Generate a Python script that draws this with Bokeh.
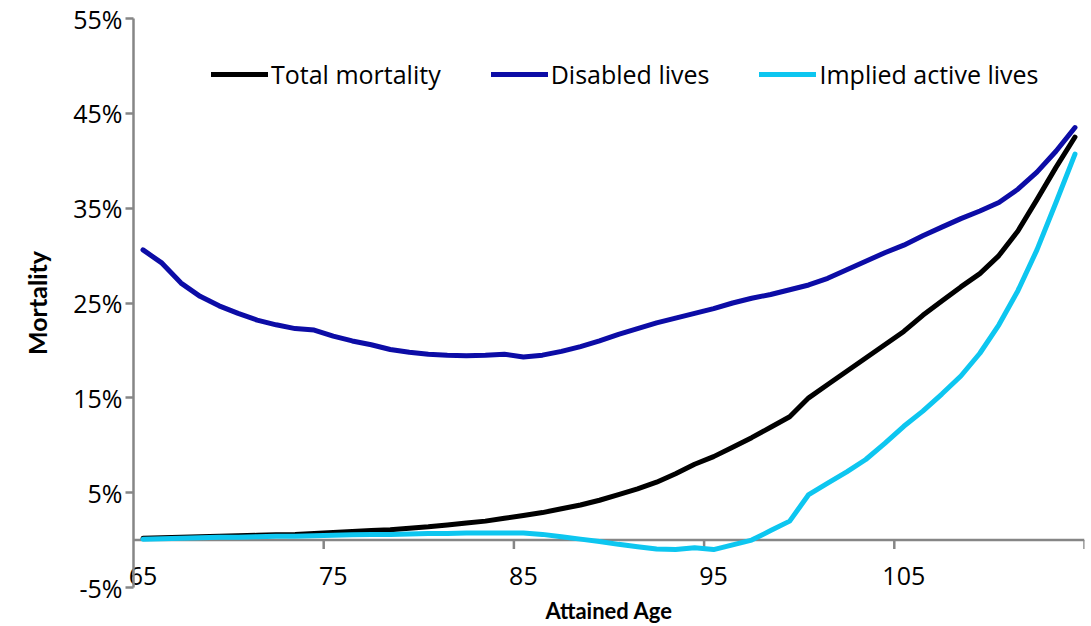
from bokeh.plotting import figure
from bokeh.models import Legend, LegendItem, FixedTicker, PrintfTickFormatter, Span, Range1d
from bokeh.embed import file_html
from bokeh.resources import INLINE

# ---- data (mortality in %) ----
ages = list(range(65, 115))
total_mortality = [
    0.2, 0.25, 0.3, 0.35, 0.4, 0.45, 0.5, 0.55, 0.6, 0.7,
    0.8, 0.9, 1.0, 1.1, 1.25, 1.4, 1.6, 1.8, 2.0, 2.3,
    2.6, 2.9, 3.3, 3.7, 4.2, 4.8, 5.4, 6.1, 7.0, 8.0,
    8.8, 9.8, 10.8, 11.9, 13.0, 15.0, 16.4, 17.8, 19.2, 20.6,
    22.0, 23.7, 25.2, 26.7, 28.1, 30.0, 32.6, 35.9, 39.3, 42.5]
disabled_lives = [
    30.6, 29.2, 27.1, 25.7, 24.7, 23.9, 23.2, 22.7, 22.3, 22.15,
    21.5, 21.0, 20.6, 20.1, 19.8, 19.6, 19.5, 19.45, 19.5, 19.6,
    19.3, 19.5, 19.9, 20.4, 21.0, 21.7, 22.3, 22.9, 23.4, 23.9,
    24.4, 25.0, 25.5, 25.9, 26.4, 26.9, 27.6, 28.5, 29.4, 30.3,
    31.1, 32.1, 33.0, 33.9, 34.7, 35.6, 37.0, 38.8, 41.0, 43.5]
implied_active_lives = [
    0.1, 0.15, 0.2, 0.25, 0.3, 0.3, 0.35, 0.4, 0.4, 0.45,
    0.5, 0.55, 0.6, 0.6, 0.65, 0.7, 0.7, 0.75, 0.75, 0.75,
    0.75, 0.6, 0.35, 0.1, -0.15, -0.45, -0.7, -0.95, -1.0, -0.8,
    -1.0, -0.5, 0.0, 1.0, 2.0, 4.8, 6.0, 7.2, 8.5, 10.2,
    12.0, 13.6, 15.4, 17.3, 19.7, 22.7, 26.3, 30.6, 35.6, 40.7]
series_names = ["Total mortality", "Disabled lives", "Implied active lives"]
x_tick_labels = [65, 75, 85, 95, 105]
y_ticks = [-5, 5, 15, 25, 35, 45, 55]
x_title = "Attained Age"
y_title = "Mortality"

AXIS_GRAY = "#868686"
FONT = "Open Sans"
TITLE_FONT = "Lato"

p = figure(width=1091, height=626,
           x_range=Range1d(ages[0] - 0.5, ages[-1] + 0.5), y_range=Range1d(-5, 55),
           output_backend="svg", toolbar_location=None,
           min_border_left=133, min_border_right=7, min_border_top=18, min_border_bottom=38)
p.grid.visible = False
p.outline_line_color = None
p.background_fill_color = "white"
p.border_fill_color = "white"

# horizontal category axis line at zero, with tick marks between category groups
zero = Span(location=0, dimension="width", line_color=AXIS_GRAY, line_width=2.5, level="underlay")
p.add_layout(zero)
tick_x = [a + 0.5 for a in ages if (a - 64) % 10 == 0]
p.segment(x0=tick_x, y0=[0] * len(tick_x), x1=tick_x, y1=[-0.95] * len(tick_x),
          line_color=AXIS_GRAY, line_width=2.5)

r1 = p.line(ages, total_mortality, line_color="black", line_width=5, line_join="round", line_cap="round")
r2 = p.line(ages, disabled_lives, line_color="#0C0CA6", line_width=5, line_join="round", line_cap="round")
r3 = p.line(ages, implied_active_lives, line_color="#0DC6F0", line_width=5, line_join="round", line_cap="round")

# y axis
ya = p.yaxis[0]
ya.ticker = FixedTicker(ticks=y_ticks)
ya.formatter = PrintfTickFormatter(format="%d%%")
ya.axis_line_color = AXIS_GRAY
ya.axis_line_width = 2.5
ya.major_tick_line_color = AXIS_GRAY
ya.major_tick_line_width = 2.5
ya.major_tick_out = 8
ya.major_tick_in = 0
ya.minor_tick_line_color = None
ya.major_label_text_font = FONT
ya.major_label_text_font_size = "25px"
ya.major_label_text_color = "black"
ya.major_label_standoff = 3
ya.axis_label = y_title
ya.axis_label_text_font = TITLE_FONT
ya.axis_label_text_font_style = "bold"
ya.axis_label_text_font_size = "25px"
ya.axis_label_text_color = "black"
ya.axis_label_standoff = 18

# x axis (labels only; the axis line is drawn at zero)
xa = p.xaxis[0]
xa.ticker = FixedTicker(ticks=x_tick_labels)
xa.axis_line_color = None
xa.major_tick_line_color = None
xa.minor_tick_line_color = None
xa.major_tick_out = 0
xa.major_tick_in = 0
xa.major_label_standoff = -21
xa.major_label_text_font = FONT
xa.major_label_text_font_size = "25px"
xa.major_label_text_color = "black"
xa.axis_label = x_title
xa.axis_label_text_font = TITLE_FONT
xa.axis_label_text_font_style = "bold"
xa.axis_label_text_font_size = "22px"
xa.axis_label_text_color = "black"
xa.axis_label_standoff = 9

legend = Legend(items=[LegendItem(label=series_names[0], renderers=[r1]),
                       LegendItem(label=series_names[1], renderers=[r2]),
                       LegendItem(label=series_names[2], renderers=[r3])],
                orientation="horizontal", location=(78, 496),
                padding=0, margin=0, spacing=50, glyph_width=57, glyph_height=20,
                label_standoff=3, label_text_font=FONT, label_text_font_size="25px",
                label_text_color="black", border_line_color=None, background_fill_alpha=0)
p.add_layout(legend)

open("out.html", "w").write(file_html(p, INLINE))
